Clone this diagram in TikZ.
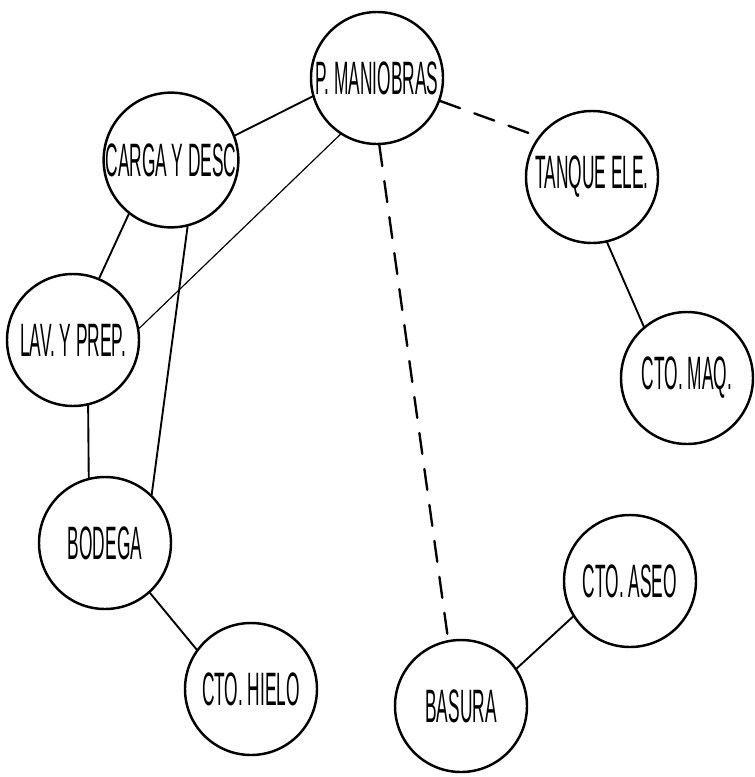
\documentclass[tikz,border=0pt]{standalone}
\usepackage{fontspec}
\newfontfamily\handfont[FakeStretch=0.37]{Liberation Sans}

\tikzset{
  bubble/.style={draw,circle,line width=2.1pt,minimum size=3.96cm,inner sep=0pt,
    font=\handfont\fontsize{40}{40}\selectfont},
  link/.style={line width=1.6pt},
  thinlink/.style={line width=1pt},
  dashlink/.style={line width=2pt,dash pattern=on 18pt off 13pt}
}

\begin{document}
\begin{tikzpicture}[x=0.03cm,y=-0.03cm,line cap=round]
\useasboundingbox (0,0) rectangle (755,777);
% ---- spaces ----
\node[bubble] (pman)   at (377,78)  {P. MANIOBRAS};
\node[bubble] (carga)  at (171,160) {CARGA Y DESC};
\node[bubble] (tanque) at (592,177) {TANQUE ELE.};
\node[bubble] (lav)    at (73,340)  {LAV. Y PREP.};
\node[bubble] (maq)    at (687,378) {CTO. MAQ.};
\node[bubble] (bodega) at (105,543) {BODEGA};
\node[bubble] (hielo)  at (251,689) {CTO. HIELO};
\node[bubble] (basura) at (461,706) {BASURA};
\node[bubble] (aseo)   at (630,581) {CTO. ASEO};
% ---- direct relations ----
\draw[link] (pman.196) -- (carga.21);
\draw[thinlink] (pman.237) -- (lav.10);
\draw[link] (carga.232) -- (lav.67);
\draw[link] (carga.284) -- (bodega.46);
\draw[link] (lav.283) -- (bodega.104);
\draw[link] (bodega.-48) -- (hielo.144);
\draw[link] (tanque.283) -- (maq.130);
\draw[link] (basura.34) -- (aseo.212);
% ---- indirect relations ----
\draw[dashlink] (pman.-20) -- (tanque.143);
\draw[dashlink] (pman.272) -- (basura.101);
\end{tikzpicture}
\end{document}
